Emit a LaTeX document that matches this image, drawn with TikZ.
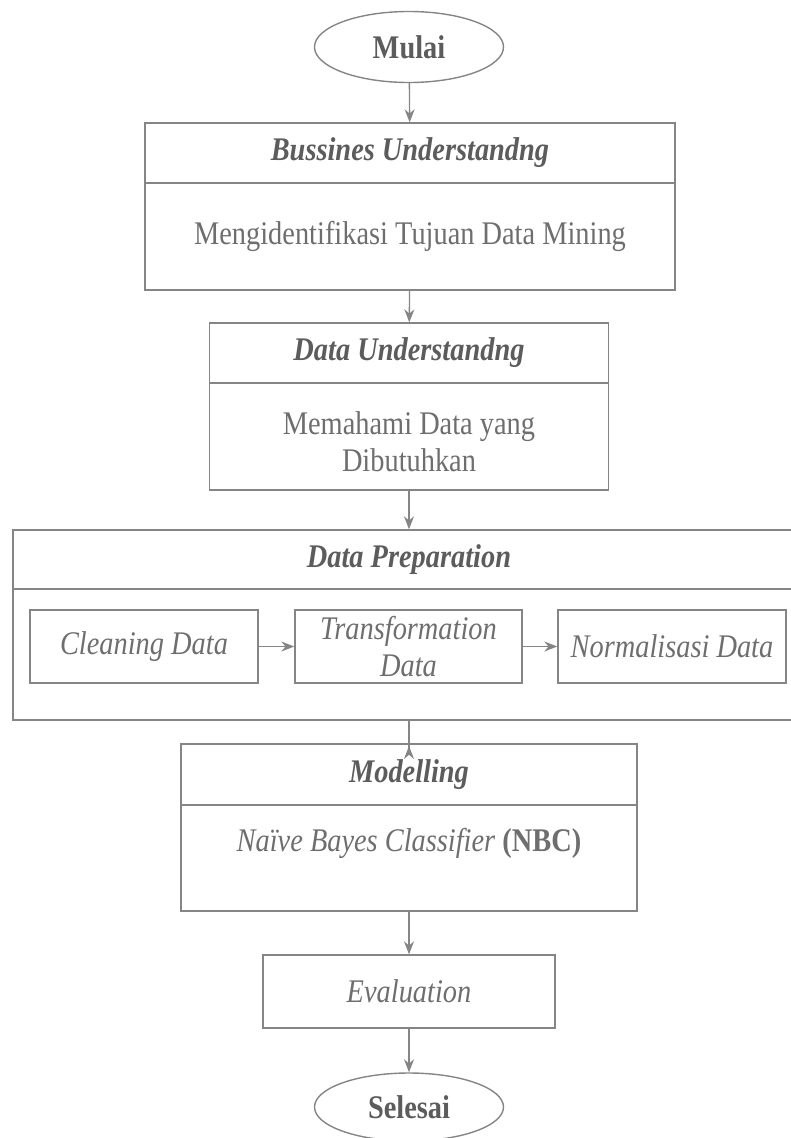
\documentclass[tikz,border=0pt]{standalone}
\usepackage{fontspec}
\setmainfont{Liberation Serif}[FakeStretch=0.86]
\usetikzlibrary{shapes.geometric,arrows.meta}
\definecolor{c858585}{RGB}{133,133,133}
\definecolor{c5C5C5C}{RGB}{92,92,92}
\definecolor{c6E6E6E}{RGB}{110,110,110}
\tikzset{
  blok/.style={draw=c858585,line width=1.4pt,rectangle,inner sep=0pt,
    text=c6E6E6E,font=\fontsize{33}{37}\selectfont,align=center},
  judul/.style={blok,text=c5C5C5C,font=\fontsize{33}{37}\selectfont\bfseries\itshape},
  miring/.style={blok,font=\fontsize{33}{37}\selectfont\itshape},
  terminal/.style={draw=c858585,line width=1.4pt,ellipse,inner sep=0pt,
    text=c5C5C5C,font=\fontsize{33}{37}\selectfont\bfseries},
  panah/.style={draw=c858585,line width=1.3pt,-{Stealth[length=13pt,width=10pt]}},
}
\begin{document}
\begin{tikzpicture}[y=1pt,x=1pt,yscale=-1]
    \clip (0,0) rectangle (791,1138);
    \useasboundingbox (0,0) rectangle (791,1138);
      % mulai
      \node[terminal,minimum width=189pt,minimum height=71pt] (mulai) at (409,47) {Mulai};
      % bussines understanding
      \node[judul,minimum width=530pt,minimum height=60pt] (bu) at (410,153)
        {Bussines Understandng};
      \node[blok,minimum width=530pt,minimum height=107pt] (buisi) at (410,236.5)
        {Mengidentifikasi Tujuan Data Mining};
      % data understanding
      \node[judul,minimum width=399pt,minimum height=60pt] (du) at (409,353)
        {Data Understandng};
      \node[blok,minimum width=399pt,minimum height=107pt] (duisi) at (409,436.5) {};
      \node[text=c6E6E6E,font=\fontsize{33}{37}\selectfont,align=center,inner sep=0pt]
        (dutxt) at (409,442) {Memahami Data yang\\Dibutuhkan};
      % data preparation
      \node[judul,minimum width=792pt,minimum height=59pt] (dp) at (409,559.5)
        {Data Preparation};
      \node[blok,minimum width=792pt,minimum height=131pt] (dpisi) at (409,654.5) {};
      \node[miring,minimum width=228pt,minimum height=73pt] (clean) at (144,646.5)
        {Cleaning Data};
      \node[miring,minimum width=227pt,minimum height=73pt] (trans) at (408.5,646.5)
        {Transformation\\Data};
      \node[miring,minimum width=228pt,minimum height=73pt] (norm) at (672,646.5)
        {Normalisasi Data};
      % modelling
      \node[judul,minimum width=456pt,minimum height=61pt] (mo) at (409,774.5) {Modelling};
      \node[blok,minimum width=456pt,minimum height=106pt] (moisi) at (409,858) {};
      \node[text=c6E6E6E,font=\fontsize{33}{37}\selectfont,inner sep=0pt] (nbc) at (409,843)
        {\textit{Naïve Bayes Classifier} \textbf{(NBC)}};
      % evaluation
      \node[miring,minimum width=292pt,minimum height=73pt] (ev) at (409,991.5) {Evaluation};
      % selesai
      \node[terminal,minimum width=189pt,minimum height=68pt] (selesai) at (409,1107) {Selesai};
      \coordinate (mtip) at (409,759);

      \draw[panah] (mulai) -- (bu);
      \draw[panah] (buisi) -- (du);
      \draw[panah] (duisi) -- (dp);
      \draw[panah] (clean) -- (trans);
      \draw[panah] (trans) -- (norm);
      \draw[panah,-{Stealth[reversed,length=13pt,width=10pt]}] (dpisi.south) -- (mtip);
      \draw[panah] (moisi) -- (ev);
      \draw[panah] (ev) -- (selesai);
\end{tikzpicture}
\end{document}
